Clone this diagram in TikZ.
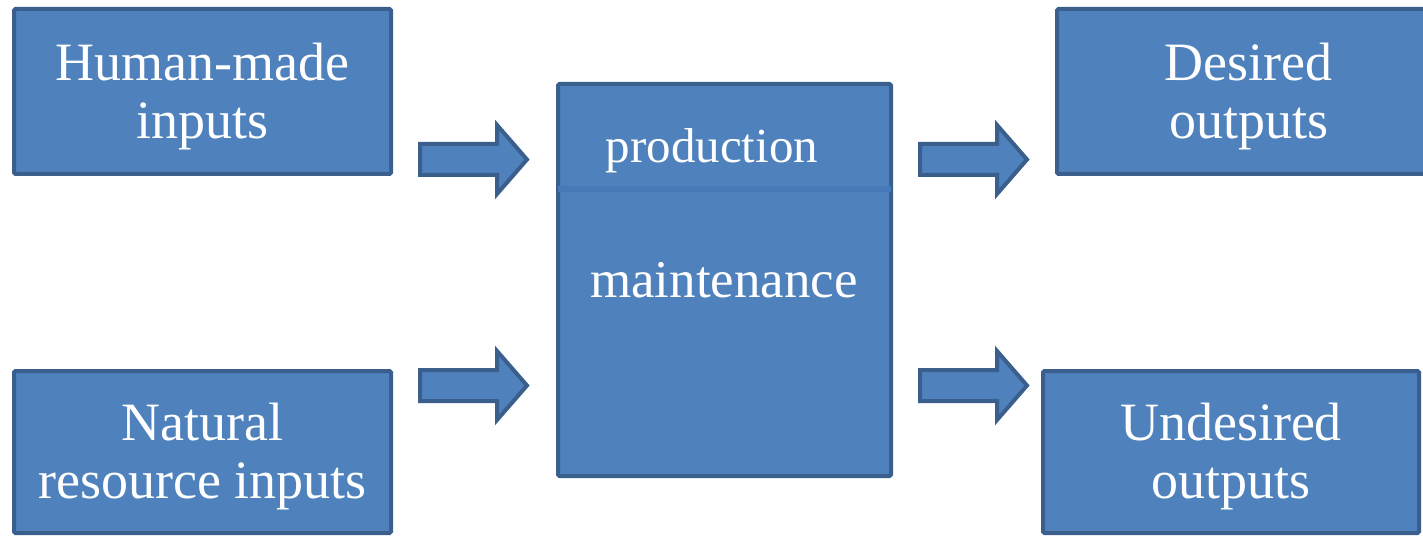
\documentclass[tikz,border=0pt]{standalone}
\usepackage{fontspec}
\setmainfont{Liberation Serif}
\definecolor{boxfill}{HTML}{4F81BD}
\definecolor{boxline}{HTML}{3A5F8D}
\definecolor{divline}{HTML}{4779B8}
\tikzset{
  box/.style={draw=boxline, fill=boxfill, line width=4pt, rounded corners=1.5pt,
    inner sep=0pt, outer sep=0pt},
  txt/.style={text=white, align=center, inner sep=0pt,
    font=\fontsize{54}{58}\selectfont},
  midtxt/.style={text=white, inner sep=0pt, font=\fontsize{53}{58}\selectfont},
  smalltxt/.style={text=white, inner sep=0pt, font=\fontsize{49}{52}\selectfont},
  arrowshape/.style={draw=boxline, fill=boxfill, line width=4pt, line join=miter},
  divider/.style={draw=divline, line width=6pt},
  barrow/.pic={
    \path[arrowshape] (0,-15.5) -- (77,-15.5) -- (77,-34.5) -- (107,0)
      -- (77,34.5) -- (77,15.5) -- (0,15.5) -- cycle;
  }
}
\begin{document}
\begin{tikzpicture}[x=1pt,y=-1pt]
\useasboundingbox (0,0) rectangle (1423,537);
\clip (0,0) rectangle (1423,537);
% boxes
\node[box, minimum width=377pt, minimum height=165pt] (hm) at (202.5,91.5) {};
\node[box, minimum width=377pt, minimum height=162pt] (nr) at (202.5,452) {};
\node[box, minimum width=333pt, minimum height=392pt] (cb) at (724.5,280) {};
\node[box, minimum width=383pt, minimum height=165pt] (do) at (1248.5,91.5) {};
\node[box, minimum width=376pt, minimum height=162pt] (uo) at (1231,452) {};
% divider in central box
\draw[divider] (558,189.5) -- (891,189.5);
% texts
\node[txt] (hmt) at ([yshift=-5pt]hm.center) {Human-made\\inputs};
\node[txt] (nrt) at ([yshift=-5pt]nr.center) {Natural\\resource inputs};
\node[txt] (dot) at ([yshift=-5pt]do.center) {Desired\\outputs};
\node[txt] (uot) at ([yshift=-5pt]uo.center) {Undesired\\outputs};
\node[smalltxt, anchor=base] (prod) at (712,163) {production};
\node[midtxt, anchor=base] (main) at (724,297) {maintenance};
% block arrows
\pic (a1) at (420,159.5) {barrow};
\pic (a2) at (420,385.5) {barrow};
\pic (a3) at (920,159.5) {barrow};
\pic (a4) at (920,385.5) {barrow};
\end{tikzpicture}
\end{document}
